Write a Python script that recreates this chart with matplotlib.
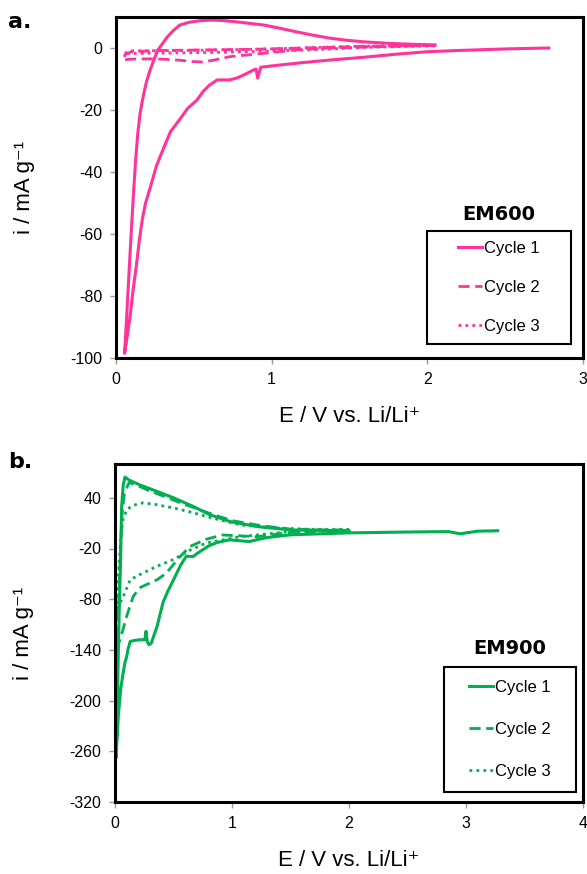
import matplotlib
matplotlib.use('Agg')
import matplotlib.pyplot as plt
from matplotlib.lines import Line2D
from matplotlib.patches import Rectangle

plt.rcParams['font.family'] = ['Liberation Sans', 'DejaVu Sans']

# ---- panel a: EM600 ----
a1_x = [2.78, 2.5, 2.2, 2.0, 1.8, 1.59, 1.37, 1.2, 1.05, 0.93, 0.91, 0.90, 0.88, 0.82, 0.78,
        0.73, 0.65, 0.60, 0.56, 0.52, 0.46, 0.41, 0.35, 0.30, 0.26, 0.22, 0.19, 0.17, 0.15,
        0.13, 0.11, 0.09, 0.075, 0.06, 0.055,
        0.065, 0.08, 0.095, 0.11, 0.125, 0.14, 0.155, 0.17, 0.195, 0.22, 0.25, 0.27, 0.30,
        0.33, 0.37, 0.41, 0.47, 0.54, 0.62, 0.70, 0.80, 0.95, 1.05, 1.16, 1.27, 1.37, 1.48,
        1.59, 1.75, 1.9, 2.05]
a1_y = [0, -0.3, -0.8, -1.2, -2.0, -3.0, -3.9, -4.7, -5.5, -6.2, -9.7, -6.8, -7.2, -8.7, -9.6,
        -10.3, -10.3, -12, -14, -16.8, -19.5, -23, -27, -33, -38, -45, -50, -55, -62,
        -70.6, -78, -86.8, -92, -97, -98.5,
        -90, -76, -62, -49, -37, -27.5, -21, -16.8, -11, -7, -3, -0.6, 1.5,
        3.6, 5.7, 7.4, 8.3, 8.8, 9.0, 8.8, 8.3, 7.4, 6.4, 5.2, 4.1, 3.2, 2.5,
        2.0, 1.5, 1.2, 1.0]
a2_x = [2.05, 1.8, 1.6, 1.37, 1.16, 0.95, 0.73, 0.62, 0.55, 0.5, 0.4, 0.3, 0.2, 0.09, 0.045,
        0.06, 0.1, 0.3, 0.6, 0.9, 1.2, 1.5, 1.8, 2.05]
a2_y = [0.8, 0.6, 0.3, 0.0, -0.6, -1.7, -2.8, -4.0, -4.5, -4.4, -3.9, -3.6, -3.5, -3.6, -3.9,
        -2.0, -1.2, -0.8, -0.6, -0.4, 0.0, 0.4, 0.7, 0.9]
a3_x = [2.05, 1.6, 1.3, 1.0, 0.7, 0.4, 0.2, 0.05, 0.1, 0.4, 0.7, 1.0, 1.3, 1.6, 2.05]
a3_y = [0.7, 0.2, -0.5, -1.0, -1.4, -1.6, -1.7, -1.8, -0.9, -0.8, -0.6, -0.3, 0.2, 0.6, 0.8]

# ---- panel b: EM900 ----
b1_x = [3.27, 3.1, 2.95, 2.85, 2.5, 2.0, 1.5, 1.3, 1.21, 1.15, 1.08, 0.98, 0.87, 0.80, 0.75,
        0.70, 0.67, 0.64, 0.61, 0.56, 0.50, 0.45, 0.41, 0.36, 0.31, 0.29, 0.275, 0.265,
        0.255, 0.21, 0.16, 0.13, 0.11, 0.10, 0.085, 0.07, 0.05, 0.03, 0.015, 0.01,
        0.02, 0.025, 0.035, 0.045, 0.057, 0.07, 0.085, 0.12, 0.21, 0.36, 0.5, 0.67, 0.81,
        0.98, 1.21, 1.5, 1.75, 2.0]
b1_y = [1, 0.5, -2.6, 0, -0.5, -1.5, -3.8, -7, -9.7, -11.7, -11, -9.7, -13, -17, -21.5,
        -26, -29.4, -29.5, -29, -40, -57, -71, -84, -112, -132, -134, -130, -118,
        -128, -128, -129, -130, -140, -148, -155, -167, -185, -215, -250, -268,
        -210, -167, -100, -49, 30, 55, 64.5, 61, 55.4, 47.5, 40, 29.7, 20,
        12, 6, 2, 1.5, 1]
b2_x = [2.0, 1.75, 1.5, 1.21, 0.92, 0.78, 0.64, 0.54, 0.44, 0.36, 0.28, 0.21, 0.155, 0.1,
        0.07, 0.043, 0.02,
        0.03, 0.045, 0.06, 0.08, 0.12, 0.2, 0.3, 0.45, 0.6, 0.8, 1.0, 1.25, 1.5, 1.75, 2.0]
b2_y = [1.5, 0.5, -1, -6, -4, -9, -17.6, -32, -49, -57, -62, -66.5, -77, -100,
        -115, -128, -136,
        -90, -30, 20, 45, 58, 54, 48, 40, 32, 22, 13, 7, 3, 2, 2]
b3_x = [2.0, 1.75, 1.5, 1.35, 1.07, 0.78, 0.64, 0.5, 0.36, 0.21, 0.13, 0.07, 0.025, 0.015,
        0.03, 0.05, 0.07, 0.1, 0.15, 0.24, 0.35, 0.5, 0.65, 0.78, 0.92, 1.07, 1.35, 1.6, 2.0]
b3_y = [2, 1, 0, -2, -6, -13.5, -22, -33, -41, -51, -57, -77, -89, -95,
        -50, -5, 15, 25.8, 31, 34, 32, 28, 23, 18, 13, 8, 4.5, 3, 2]

cycle_labels = ['Cycle 1', 'Cycle 2', 'Cycle 3']
pink = '#ff3399'
green = '#00b050'

W, H = 587, 874
fig = plt.figure(figsize=(W / 100, H / 100), dpi=100)
ax_a = fig.add_axes([116 / W, 1 - 358 / H, (583 - 116) / W, (358 - 17) / H])
ax_b = fig.add_axes([115 / W, 1 - 802 / H, (583 - 115) / W, (802 - 464) / H])

styles = [dict(ls='-', lw=2.2),
          dict(ls=(0, (4, 2)), lw=2.0),
          dict(ls=(0, (1, 1.5)), lw=2.0)]


def draw_panel(ax, data, color, xlim, ylim, yticks, xticks, name, letter, box, spacing, name_pos):
    for (x, y), st in zip(data, styles):
        ax.plot(x, y, color=color, solid_joinstyle='round', **st)
    ax.set_xlim(*xlim)
    ax.set_ylim(*ylim)
    ax.set_xticks(xticks)
    ax.set_yticks(yticks)
    ax.set_xticklabels([str(t) for t in xticks], fontsize=11.5)
    ax.set_yticklabels([str(t) for t in yticks], fontsize=11.5)
    ax.tick_params(direction='out', length=4, width=1, color='#999999', pad=6)
    for sp in ax.spines.values():
        sp.set_linewidth(2.2)
        sp.set_color('black')
    ax.set_xlabel('E / V vs. Li/Li\u207a', fontsize=16, labelpad=14)
    ax.set_ylabel('i / mA g\u207b\u00b9', fontsize=16, labelpad=25)

    # legend frame drawn separately so the entries can sit centred in it
    x0, y0, x1, y1 = box
    ax.add_patch(Rectangle((x0 / W, 1 - y1 / H), (x1 - x0) / W, (y1 - y0) / H,
                           transform=fig.transFigure, facecolor='white',
                           edgecolor='black', linewidth=1.5, zorder=4, clip_on=False))
    handles = [Line2D([], [], color=color, **st) for st in styles]
    leg = ax.legend(handles, cycle_labels, loc='center',
                    bbox_to_anchor=((x0 + x1) / 2 / W, 1 - (y0 + y1) / 2 / H),
                    bbox_transform=fig.transFigure, fontsize=12,
                    handlelength=1.45, handletextpad=0.1, labelspacing=spacing,
                    frameon=False, borderpad=0)
    leg.set_zorder(6)
    fig.text(name_pos[0] / W, 1 - name_pos[1] / H, name, family='DejaVu Sans',
             fontweight='bold', fontsize=14, ha='center', va='center')
    fig.text(letter[0] / W, 1 - letter[1] / H, letter[2], family='DejaVu Sans',
             fontweight='bold', fontsize=16, ha='left', va='center')


draw_panel(ax_a, [(a1_x, a1_y), (a2_x, a2_y), (a3_x, a3_y)], pink,
           (0, 3), (-100, 10), [-100, -80, -60, -40, -20, 0], [0, 1, 2, 3],
           'EM600', (8, 22, 'a.'), (427, 231, 571, 344), 1.45, (499, 214))
draw_panel(ax_b, [(b1_x, b1_y), (b2_x, b2_y), (b3_x, b3_y)], green,
           (0, 4), (-320, 80), [-320, -260, -200, -140, -80, -20, 40], [0, 1, 2, 3, 4],
           'EM900', (8, 462, 'b.'), (444, 667, 576, 792), 1.63, (510, 648))

fig.savefig('out.png', dpi=100)
